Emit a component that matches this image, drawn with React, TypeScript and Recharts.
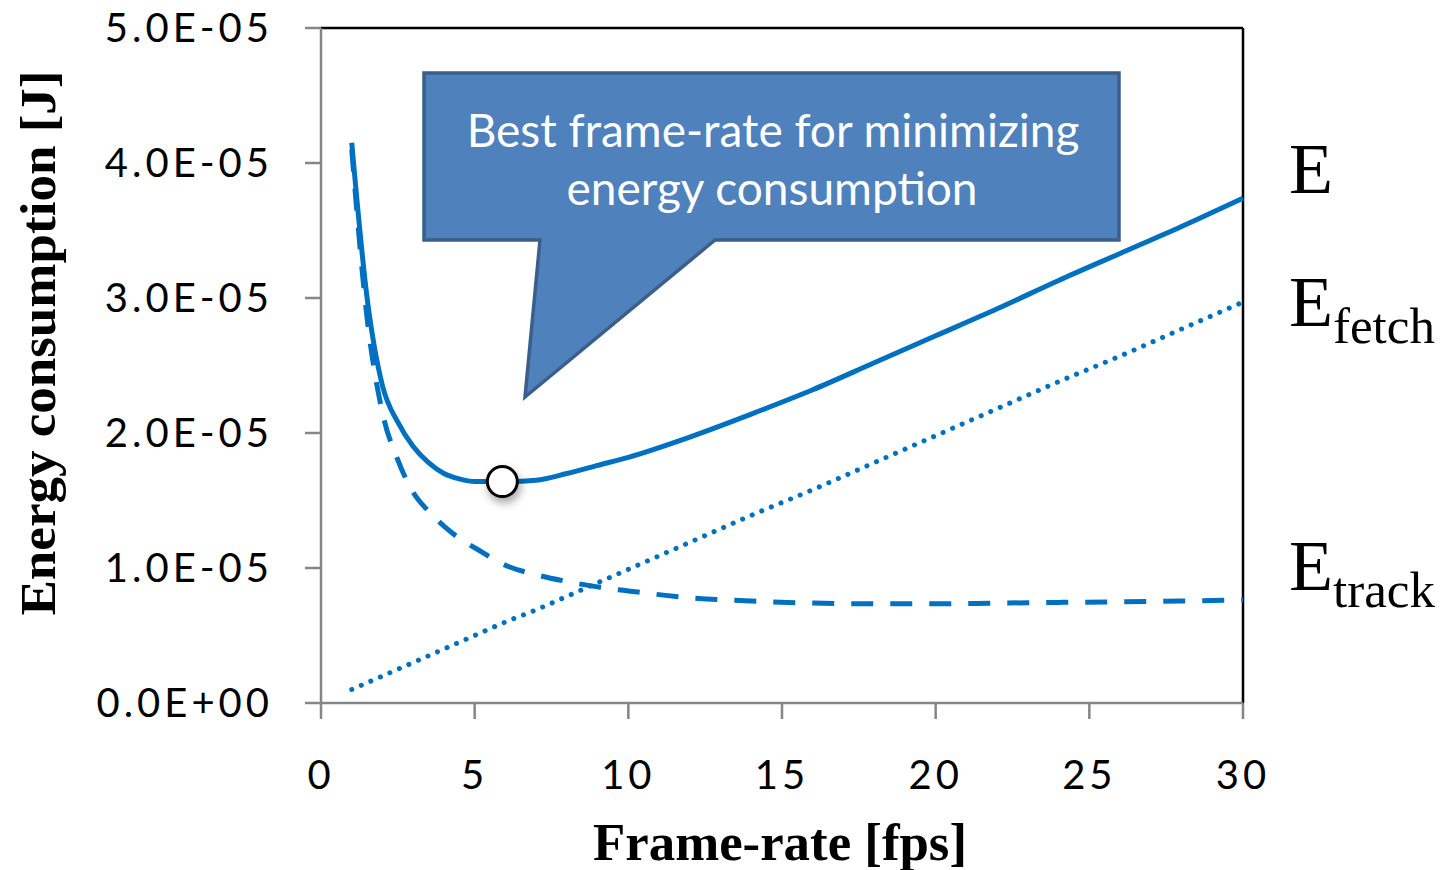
import React from 'react'
import { LineChart, Line, XAxis, YAxis, ReferenceLine, ReferenceDot } from 'recharts'

const frameRates = [1, 1.5, 2, 2.5, 3, 3.5, 4, 4.5, 5, 6, 7, 8, 9, 10, 12, 14, 16, 18, 20, 22, 24, 26, 28, 30]
const totalEnergy = [4.15, 3.0, 2.35, 2.08, 1.9, 1.78, 1.7, 1.66, 1.64, 1.64, 1.65, 1.7, 1.76, 1.82, 1.97, 2.14, 2.32, 2.52, 2.72, 2.92, 3.13, 3.33, 3.53, 3.74]
const fetchEnergy = [0.1, 0.15, 0.2, 0.25, 0.3, 0.35, 0.4, 0.45, 0.5, 0.6, 0.69, 0.79, 0.89, 0.99, 1.19, 1.39, 1.58, 1.78, 1.98, 2.18, 2.38, 2.57, 2.77, 2.97]
const trackEnergy = [4.1, 2.85, 2.15, 1.8, 1.56, 1.42, 1.31, 1.22, 1.15, 1.02, 0.95, 0.9, 0.86, 0.83, 0.78, 0.755, 0.74, 0.735, 0.735, 0.74, 0.745, 0.75, 0.755, 0.765]
const xTicks = [0, 5, 10, 15, 20, 25, 30]
const yTicks = [0, 1e-5, 2e-5, 3e-5, 4e-5, 5e-5]
const bestRate = 5.9
const bestEnergy = 1.64e-5

const data = frameRates.map((fr, i) => ({
  fr,
  E: totalEnergy[i] * 1e-5,
  fetch: fetchEnergy[i] * 1e-5,
  track: trackEnergy[i] * 1e-5,
}))

const blue = '#0070C0'
const axisGray = '#868686'
const tickFont = { fontFamily: 'Lato, "Open Sans", sans-serif', fontSize: 40, fill: '#000', letterSpacing: 4 }
const serif = '"Liberation Serif", "DejaVu Serif", serif'

const fmtY = (v: number) => (v === 0 ? '0.0E+00' : `${(v * 1e5).toFixed(1)}E-05`)

export default function App() {
  return (
    <div style={{ position: 'absolute', left: 0, top: 0, width: 1450, height: 870, background: '#fff' }}>
      <style>{`.best-dot { filter: drop-shadow(2px 5px 4px rgba(0,0,0,0.35)); }`}</style>
      <LineChart width={1450} height={870} data={data} margin={{ top: 28, right: 207, bottom: 107, left: 21 }}>
        <XAxis
          dataKey="fr"
          type="number"
          domain={[0, 30]}
          ticks={xTicks}
          height={60}
          tickSize={16}
          tickMargin={42}
          tick={tickFont}
          axisLine={{ stroke: axisGray, strokeWidth: 2.5 }}
          tickLine={{ stroke: axisGray, strokeWidth: 2.5 }}
        />
        <YAxis
          type="number"
          domain={[0, 5e-5]}
          ticks={yTicks}
          width={300}
          tickSize={16}
          tickMargin={32}
          tickFormatter={fmtY}
          tick={tickFont}
          axisLine={{ stroke: axisGray, strokeWidth: 2.5 }}
          tickLine={{ stroke: axisGray, strokeWidth: 2.5 }}
        />
        <ReferenceLine y={5e-5} stroke="#000" strokeWidth={2.5} />
        <ReferenceLine x={30} stroke="#000" strokeWidth={2.5} />
        <Line type="monotone" dataKey="fetch" stroke={blue} strokeWidth={5} strokeDasharray="0.1 10.3" strokeLinecap="round" dot={false} isAnimationActive={false} />
        <Line type="monotone" dataKey="track" stroke={blue} strokeWidth={5} strokeDasharray="22 17" dot={false} isAnimationActive={false} />
        <Line type="monotone" dataKey="E" stroke={blue} strokeWidth={5} dot={false} isAnimationActive={false} />
        <ReferenceDot x={bestRate} y={bestEnergy} r={15} fill="#fff" stroke="#000" strokeWidth={3} className="best-dot" />
      </LineChart>
      <svg width={1450} height={870} style={{ position: 'absolute', left: 0, top: 0, pointerEvents: 'none' }}>
        <path
          d="M424,73 L1119,73 L1119,240 L715,240 L525,397 L540,240 L424,240 Z"
          fill="#4F81BD"
          stroke="#3A5F8B"
          strokeWidth={3.5}
          strokeLinejoin="miter"
        />
        <g fontFamily='Lato, "Open Sans", sans-serif' fontSize={46} fill="#fff" textAnchor="middle">
          <text x={773} y={147}>Best frame-rate for minimizing</text>
          <text x={772} y={205}>energy consumption</text>
        </g>
        <text
          x={780}
          y={860}
          textAnchor="middle"
          fontFamily={serif}
          fontWeight="bold"
          fontSize={52}
          textLength={374}
          lengthAdjust="spacingAndGlyphs"
        >
          Frame-rate [fps]
        </text>
        <text
          transform="translate(55,343) rotate(-90)"
          textAnchor="middle"
          fontFamily={serif}
          fontWeight="bold"
          fontSize={50}
          textLength={545}
          lengthAdjust="spacingAndGlyphs"
        >
          Energy consumption [J]
        </text>
        <g fontFamily={serif} fill="#000">
          <text x={1289} y={193} fontSize={72}>E</text>
          <text x={1289} y={326} fontSize={72}>
            E<tspan fontSize={51} dy={17}>fetch</tspan>
          </text>
          <text x={1289} y={590} fontSize={72}>
            E<tspan fontSize={51} dy={17}>track</tspan>
          </text>
        </g>
      </svg>
    </div>
  )
}
